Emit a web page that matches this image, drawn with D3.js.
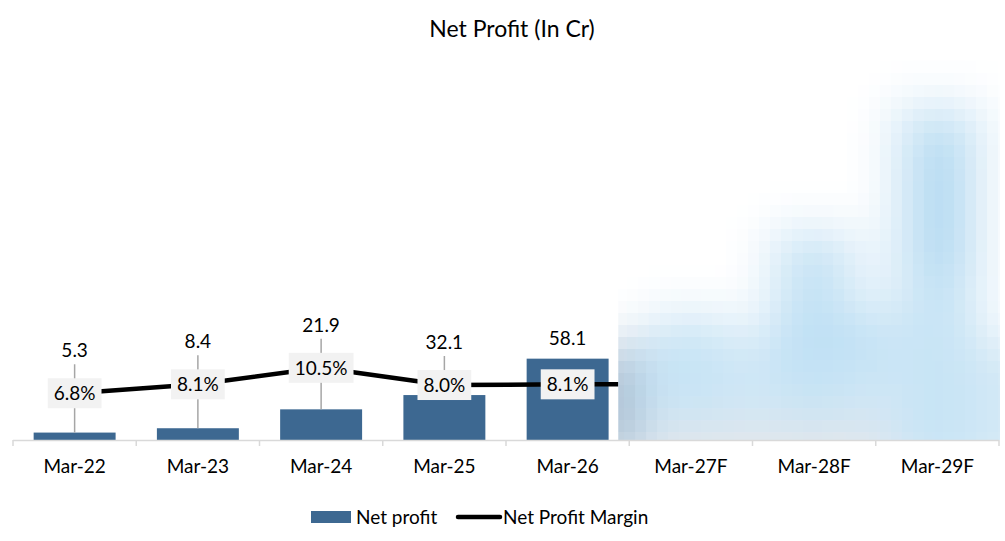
<!DOCTYPE html>
<html>
<head>
<meta charset="utf-8">
<script src="https://cdn.jsdelivr.net/npm/d3@7"></script>
<style>
  html, body { margin: 0; padding: 0; background: #ffffff; }
  svg { display: block; font-family: Lato, "Open Sans", sans-serif; }
</style>
</head>
<body>
<svg id="chart" width="1005" height="541"></svg>
<script>
// ---- data ----
const categories = ["Mar-22", "Mar-23", "Mar-24", "Mar-25", "Mar-26", "Mar-27F", "Mar-28F", "Mar-29F"];
const actualCategories = ["Mar-22", "Mar-23", "Mar-24", "Mar-25", "Mar-26"];
const netProfit = [5.3, 8.4, 21.9, 32.1, 58.1];
const netProfitMargin = [6.8, 8.1, 10.5, 8.0, 8.1];
const profitLabels = ["5.3", "8.4", "21.9", "32.1", "58.1"];
const marginLabels = ["6.8%", "8.1%", "10.5%", "8.0%", "8.1%"];
// forecast columns are obscured in the source; rough extent (in Cr) of the blurred patches
const maskedCategories = ["Mar-27F", "Mar-28F", "Mar-29F"];
const maskExtent = [90, 150, 240];
const title = "Net Profit (In Cr)";
const legendNames = ["Net profit", "Net Profit Margin"];

// ---- setup ----
const svg = d3.select("#chart");
const barColor = "#3d6891";

const x = d3.scaleBand().domain(categories).range([13, 999])
  .paddingInner(0.335).paddingOuter(0.1675);
const y = d3.scaleLinear().domain([0, 270]).range([440, 62]);
const y2 = d3.scaleLinear().domain([0, 55]).range([440, 62]);
const cx = c => x(c) + x.bandwidth() / 2;
const maskX0 = x(maskedCategories[0]) - x.step() * x.paddingInner() / 2 - 11;

// title
svg.append("text").attr("x", 512).attr("y", 37).attr("text-anchor", "middle")
  .attr("font-size", 23).attr("fill", "#000").text(title);

// bars
svg.append("g").selectAll("rect").data(actualCategories).join("rect")
  .attr("x", d => x(d)).attr("width", x.bandwidth())
  .attr("y", (d, i) => y(netProfit[i]))
  .attr("height", (d, i) => y(0) - y(netProfit[i]))
  .attr("fill", barColor);

// value label positions
const labelY = actualCategories.map((c, i) => Math.min(y2(netProfitMargin[i]) - 43, y(netProfit[i]) - 21));

// leader lines
svg.append("g").selectAll("line").data(actualCategories).join("line")
  .filter((d, i) => y(netProfit[i]) - (labelY[i] + 14) > 15)
  .attr("x1", d => cx(d)).attr("x2", d => cx(d))
  .attr("y1", d => labelY[actualCategories.indexOf(d)] + 14)
  .attr("y2", d => y(netProfit[actualCategories.indexOf(d)]))
  .attr("stroke", "#a6a6a6").attr("stroke-width", 1.5);

// margin line (continues under the obscured forecast area)
const pts = actualCategories.map((c, i) => [cx(c), y2(netProfitMargin[i])]);
pts.push([maskX0 + 20, y2(netProfitMargin[netProfitMargin.length - 1])]);
svg.append("path")
  .attr("d", d3.line()(pts)).attr("fill", "none").attr("stroke", "#000")
  .attr("stroke-width", 4.5).attr("stroke-linejoin", "round");

// margin labels
const mg = svg.append("g").selectAll("g").data(actualCategories).join("g")
  .attr("transform", (d, i) => `translate(${cx(d)},${y2(netProfitMargin[i])})`);
const mt = mg.append("text").attr("text-anchor", "middle").attr("dy", "0.36em")
  .attr("font-size", 19).attr("fill", "#000").text((d, i) => marginLabels[i]);
mt.each(function () {
  const w = this.getComputedTextLength() + 12;
  d3.select(this.parentNode).insert("rect", "text")
    .attr("x", -w / 2).attr("y", -15).attr("width", w).attr("height", 30)
    .attr("fill", "#f2f2f2");
});

// value labels
svg.append("g").selectAll("text").data(actualCategories).join("text")
  .attr("x", d => cx(d)).attr("y", (d, i) => labelY[i]).attr("dy", "0.36em")
  .attr("text-anchor", "middle").attr("font-size", 19).attr("fill", "#000")
  .text((d, i) => profitLabels[i]);

// obscured forecast region (blurred + pixelated)
const defs = svg.append("defs");
defs.append("clipPath").attr("id", "maskClip").append("rect")
  .attr("x", maskX0).attr("y", 55).attr("width", 1000 - maskX0).attr("height", y(0) - 55);
const fx = maskX0 - 60, fy = 0, fw = 1005 - fx + 60, fh = 541;
const f = defs.append("filter").attr("id", "blurPix").attr("filterUnits", "userSpaceOnUse")
  .attr("primitiveUnits", "userSpaceOnUse")
  .attr("x", fx).attr("y", fy).attr("width", fw).attr("height", fh);
f.append("feGaussianBlur").attr("in", "SourceGraphic").attr("stdDeviation", 24).attr("result", "b");
f.append("feFlood").attr("x", fx + 6).attr("y", fy + 6).attr("width", 1).attr("height", 1)
  .attr("flood-color", "#000").attr("result", "dot");
f.append("feComposite").attr("in", "dot").attr("in2", "dot").attr("operator", "over")
  .attr("x", fx).attr("y", fy).attr("width", 12).attr("height", 12).attr("result", "cell");
f.append("feTile").attr("in", "cell").attr("result", "t");
f.append("feComposite").attr("in", "b").attr("in2", "t").attr("operator", "in").attr("result", "s");
f.append("feMorphology").attr("in", "s").attr("operator", "dilate").attr("radius", 6);

const og = svg.append("g").attr("clip-path", "url(#maskClip)");
og.append("rect").attr("x", maskX0).attr("y", 55).attr("width", 1000 - maskX0)
  .attr("height", y(0) - 55).attr("fill", "#fff");
const blobs = og.append("g").attr("filter", "url(#blurPix)");
blobs.append("rect").attr("x", fx).attr("y", 0).attr("width", fw).attr("height", 541)
  .attr("fill", "#fff");
// base haze across the lower part
blobs.append("rect").attr("x", maskX0 - 10).attr("y", y(maskExtent[0] * 0.8))
  .attr("width", 1060 - maskX0).attr("height", y(0) - y(maskExtent[0] * 0.8) + 40)
  .attr("fill", "#d5e9f6");
blobs.selectAll("rect.fb").data(maskedCategories).join("rect").attr("class", "fb")
  .attr("x", d => x(d) - 5).attr("width", x.bandwidth() + 10)
  .attr("y", (d, i) => y(maskExtent[i]))
  .attr("height", (d, i) => y(0) - y(maskExtent[i]) + 40)
  .attr("fill", "#c8e4f5");
// more intense middle patches
blobs.append("rect").attr("x", x(maskedCategories[1]) - 10).attr("width", x.bandwidth() + 40)
  .attr("y", y(95)).attr("height", y(50) - y(95)).attr("fill", "#bfe0f4");
blobs.append("rect").attr("x", x(maskedCategories[2]) + 25).attr("width", x.bandwidth() - 40)
  .attr("y", y(215)).attr("height", y(120) - y(215)).attr("fill", "#b2d9f1");
// greyish smear next to the last actual bar
blobs.append("rect").attr("x", maskX0 - 25).attr("width", 40)
  .attr("y", y(netProfit[4] * 1.15)).attr("height", y(0) - y(netProfit[4] * 1.15) + 20)
  .attr("fill", "#8fa9c2");
// pale greyish floor
blobs.append("rect").attr("x", maskX0 + 30).attr("width", 240)
  .attr("y", y(10)).attr("height", 50).attr("fill", "#e3e6ea");

// x axis
const ax = svg.append("g");
ax.append("line").attr("x1", 13).attr("x2", 999).attr("y1", y(0) + 0.5).attr("y2", y(0) + 0.5)
  .attr("stroke", "#d9d9d9").attr("stroke-width", 1.5);
const bounds = categories.map(c => x(c) - x.step() * x.paddingInner() / 2).concat([999]);
ax.selectAll("line.tk").data(bounds).join("line").attr("class", "tk")
  .attr("x1", d => d).attr("x2", d => d).attr("y1", y(0)).attr("y2", y(0) + 6)
  .attr("stroke", "#d9d9d9").attr("stroke-width", 1.5);
ax.selectAll("text").data(categories).join("text")
  .attr("x", d => cx(d)).attr("y", 473).attr("text-anchor", "middle")
  .attr("font-size", 19).attr("fill", "#000").text(d => d);

// legend
const lg = svg.append("g");
lg.append("rect").attr("x", 311).attr("y", 511).attr("width", 40).attr("height", 12).attr("fill", barColor);
lg.append("text").attr("x", 356).attr("y", 524).attr("font-size", 19).text(legendNames[0]);
lg.append("line").attr("x1", 458).attr("x2", 500).attr("y1", 517).attr("y2", 517)
  .attr("stroke", "#000").attr("stroke-width", 4.5).attr("stroke-linecap", "round");
lg.append("text").attr("x", 503).attr("y", 524).attr("font-size", 19).text(legendNames[1]);
</script>
</body>
</html>
